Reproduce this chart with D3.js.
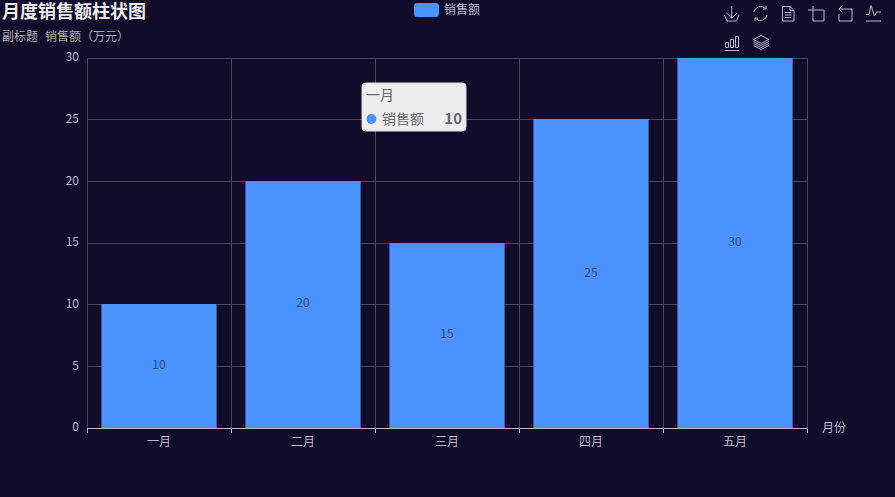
<!DOCTYPE html>
<html>
<head>
<meta charset="utf-8">
<script src="https://cdn.jsdelivr.net/npm/d3@7/dist/d3.min.js"></script>
<style>
    html, body { margin: 0; padding: 0; background: #100c2a; overflow: hidden; }
    svg { display: block; }
    text { font-family: "Noto Sans CJK SC", "Microsoft YaHei", sans-serif; }
</style>
</head>
<body>
<svg id="chart" width="895" height="497"></svg>
<script>
const months = ['一月', '二月', '三月', '四月', '五月'];
const sales = [10, 20, 15, 25, 30];
const yTicks = [0, 5, 10, 15, 20, 25, 30];

const titleText = '月度销售额柱状图';
const subtitleText = '副标题  销售额（万元）';
const seriesName = '销售额';
const xAxisName = '月份';
const tooltipIndex = 0;

const barColor = '#4992ff';
const gridColor = '#484753';
const axisColor = '#b9b8ce';
const textColor = '#eeeeee';

const svg = d3.select('#chart');

const x = d3.scaleBand().domain(months).range([87, 807]).paddingInner(0).paddingOuter(0);
const y = d3.scaleLinear().domain([0, 30]).range([428, 58]);
const barInset = x.bandwidth() * 0.1;

// Split lines
const grid = svg.append('g').attr('stroke', gridColor).attr('stroke-width', 1);
yTicks.filter(d => d > 0).forEach(d => {
    grid.append('line')
        .attr('x1', 87).attr('x2', 807)
        .attr('y1', Math.floor(y(d)) + 0.5).attr('y2', Math.floor(y(d)) + 0.5);
});
months.forEach(m => {
    grid.append('line')
        .attr('x1', Math.round(x(m)) + 0.5).attr('x2', Math.round(x(m)) + 0.5)
        .attr('y1', 58).attr('y2', 428);
});
grid.append('line').attr('x1', 807.5).attr('x2', 807.5).attr('y1', 58).attr('y2', 428);

// Bars
svg.append('g').selectAll('rect')
    .data(sales).enter().append('rect')
    .attr('x', (d, i) => x(months[i]) + barInset)
    .attr('y', d => Math.floor(y(d)))
    .attr('width', x.bandwidth() - barInset * 2)
    .attr('height', d => y(0) - Math.floor(y(d)))
    .attr('fill', barColor);

// Bar labels
svg.append('g').selectAll('text')
    .data(sales).enter().append('text')
    .attr('x', (d, i) => x(months[i]) + x.bandwidth() / 2)
    .attr('y', d => (y(d) + y(0)) / 2 - 1.5)
    .attr('dy', '0.36em')
    .attr('text-anchor', 'middle')
    .attr('font-size', 12)
    .attr('fill', '#2f4a78')
    .text(d => d);

// Y axis
const yAxis = svg.append('g')
    .attr('transform', 'translate(87,0)')
    .call(d3.axisLeft(y).tickValues(yTicks).tickSize(0).tickPadding(8));
yAxis.select('.domain').remove();
yAxis.selectAll('text')
    .attr('y', -1)
    .attr('font-size', 12)
    .attr('fill', axisColor)
    .style('font-family', '"Noto Sans CJK SC", sans-serif');

// X axis
const xAxisLine = svg.append('g').attr('stroke', axisColor).attr('stroke-width', 1);
xAxisLine.append('line').attr('x1', 87).attr('x2', 807).attr('y1', 428.5).attr('y2', 428.5);
months.forEach(m => {
    xAxisLine.append('line')
        .attr('x1', Math.round(x(m)) + 0.5).attr('x2', Math.round(x(m)) + 0.5)
        .attr('y1', 428).attr('y2', 433);
});
xAxisLine.append('line').attr('x1', 807.5).attr('x2', 807.5).attr('y1', 428).attr('y2', 433);

svg.append('g').selectAll('text')
    .data(months).enter().append('text')
    .attr('x', d => x(d) + x.bandwidth() / 2)
    .attr('y', 442)
    .attr('dy', '0.36em')
    .attr('text-anchor', 'middle')
    .attr('font-size', 12)
    .attr('fill', axisColor)
    .text(d => d);

svg.append('text')
    .attr('x', 822).attr('y', 428).attr('dy', '0.36em')
    .attr('font-size', 12)
    .attr('fill', axisColor)
    .text(xAxisName);

// Title
svg.append('text')
    .attr('x', 2).attr('y', 11.5).attr('dy', '0.36em')
    .attr('font-size', 18)
    .attr('font-weight', 'bold')
    .attr('fill', textColor)
    .text(titleText);

svg.append('text')
    .attr('x', 2).attr('y', 37).attr('dy', '0.36em')
    .attr('font-size', 12)
    .attr('fill', '#aaaaaa')
    .style('white-space', 'pre')
    .style('word-spacing', '0.8px')
    .text(subtitleText);

// Legend
svg.append('rect')
    .attr('x', 414).attr('y', 3).attr('width', 25).attr('height', 14).attr('rx', 3)
    .attr('fill', barColor);
svg.append('text')
    .attr('x', 444).attr('y', 10).attr('dy', '0.36em')
    .attr('font-size', 12)
    .attr('fill', axisColor)
    .text(seriesName);

// Toolbox icons
const icons = [
    { x: 724, y: 5, d: 'M0.5 10 L3 16 H12.5 L15 10 M7.7 1 V13 M2.5 8 L7.7 13 L13 8' },
    { x: 753, y: 6, d: 'M0.8 6 A7 7 0 0 1 12.5 2.5 M13 0 V3 H10 M14.2 9 A7 7 0 0 1 2.5 12.5 M2 15 V12 H5' },
    { x: 782, y: 6, d: 'M0.5 0.5 H8 L12 4.5 V15 H0.5 Z M8 0.5 V4.5 H12 M3 6.5 H9.5 M3 9 H9.5 M3 11.5 H9.5' },
    { x: 808, y: 6, d: 'M0 4 H16 V15 H5 V0' },
    { x: 838, y: 5, d: 'M1 9 V16 H14 V4 H1 M4.5 0.5 L1 4 L4.5 7.5' },
    { x: 866, y: 5, d: 'M0 16 H15 M0 9.5 H3 L5 0.5 L8.5 11 L10.5 7 H15' },
    { x: 724, y: 35, d: 'M0.5 15.5 H15 M1.5 7.5 H4.5 V12.5 H1.5 Z M6.5 4.5 H9.5 V12.5 H6.5 Z M11.5 1.5 H14.5 V12.5 H11.5 Z' },
    { x: 753, y: 35, d: 'M8 0.5 L16 4.5 L8 8.5 L0.5 4.5 Z M0.5 6.5 L8 10.5 L16 6.5 M0.5 8.5 L8 12.5 L16 8.5 M0.5 10.5 L8 14.5 L16 10.5' }
];
svg.append('g').selectAll('path')
    .data(icons).enter().append('path')
    .attr('transform', d => `translate(${d.x},${d.y})`)
    .attr('d', d => d.d)
    .attr('fill', 'none')
    .attr('stroke', axisColor)
    .attr('stroke-width', 1);

// Tooltip
const tip = svg.append('g').attr('transform', 'translate(362,83)');
tip.append('rect')
    .attr('width', 104).attr('height', 48).attr('rx', 4)
    .attr('fill', '#eeeeee')
    .attr('stroke', '#dddddd');
tip.append('text')
    .attr('x', 4).attr('y', 12).attr('dy', '0.36em')
    .attr('font-size', 14)
    .attr('fill', '#666666')
    .text(months[tooltipIndex]);
tip.append('circle')
    .attr('cx', 9.5).attr('cy', 36).attr('r', 5)
    .attr('fill', barColor);
tip.append('text')
    .attr('x', 20).attr('y', 36).attr('dy', '0.36em')
    .attr('font-size', 14)
    .attr('fill', '#666666')
    .text(seriesName);
tip.append('text')
    .attr('x', 100).attr('y', 36).attr('dy', '0.36em')
    .attr('text-anchor', 'end')
    .attr('font-size', 15)
    .attr('font-weight', 'bold')
    .attr('fill', '#666666')
    .text(sales[tooltipIndex]);
</script>
</body>
</html>
